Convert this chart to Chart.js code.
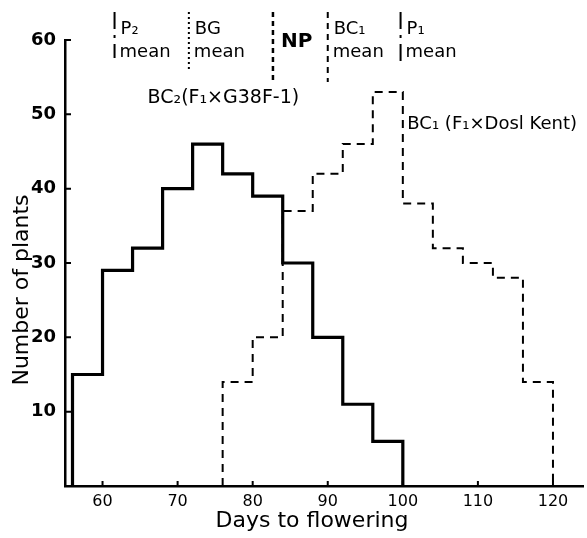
<!DOCTYPE html>
<html>
<head>
<meta charset="utf-8">
<script src="https://cdn.jsdelivr.net/npm/chart.js@4/dist/chart.umd.min.js"></script>
<style>
  html, body { margin: 0; padding: 0; background: #fff; }
</style>
</head>
<body>
<canvas id="chart" width="587" height="538"></canvas>
<script>
// Bins: lower edge of each 4-day class and number of plants in it
const binWidth = 4;
const bc2Days = [56, 60, 64, 68, 72, 76, 80, 84, 88, 92, 96];
const bc2Plants = [15, 29, 32, 40, 46, 42, 39, 30, 20, 11, 6];
const bc1Days = [76, 80, 84, 88, 92, 96, 100, 104, 108, 112, 116];
const bc1Plants = [14, 20, 37, 42, 46, 53, 38, 32, 30, 28, 14];

// Axis ticks
const xTicks = [60, 70, 80, 90, 100, 110, 120];
const yTicks = [10, 20, 30, 40, 50, 60];

// Means marked at the top
const meanNames = ['P₂', 'BG', 'NP', 'BC₁', 'P₁'];
const meanSub = ['mean', 'mean', '', 'mean', 'mean'];
const meanDays = [61.6, 71.5, 82.7, 90, 99.7];

const bc2Label = 'BC₂(F₁×G38F-1)';
const bc1Label = 'BC₁ (F₁×Dosl Kent)';

// histogram outline: up from 0, across each bin, back down to 0
function outline(days, counts) {
    let pts = [{ x: days[0], y: 0 }];
    days.forEach((d, i) => pts.push({ x: d, y: counts[i] }));
    let end = days[days.length - 1] + binWidth;
    pts.push({ x: end, y: counts[counts.length - 1] });
    pts.push({ x: end, y: 0 });
    return pts;
}

const FONT = 'DejaVu Sans';

// extra drawing: inward ticks, mean lines, labels, axis titles
const annotate = {
    id: 'annotate',
    afterDraw(chart) {
        const { ctx, scales: { x, y } } = chart;
        ctx.save();
        ctx.strokeStyle = '#000';
        ctx.fillStyle = '#000';

        // tick marks pointing into the plot
        ctx.lineWidth = 2;
        ctx.beginPath();
        yTicks.forEach(v => {
            let py = y.getPixelForValue(v);
            ctx.moveTo(x.left, py);
            ctx.lineTo(x.left + 6, py);
        });
        xTicks.forEach(v => {
            let px = x.getPixelForValue(v);
            ctx.moveTo(px, y.bottom);
            ctx.lineTo(px, y.bottom - 5);
        });
        ctx.stroke();

        // mean lines
        const dashes = [[17, 6, 3, 6], [2, 3], [5, 4], [6, 5], [17, 6, 3, 6]];
        const widths = [2, 2, 2.5, 2, 2];
        const lens = [46, 58, 70, 70, 50];
        meanDays.forEach((d, i) => {
            let px = x.getPixelForValue(d);
            ctx.setLineDash(dashes[i]);
            ctx.lineWidth = widths[i];
            ctx.beginPath();
            ctx.moveTo(px, 12);
            ctx.lineTo(px, 12 + lens[i]);
            ctx.stroke();
        });
        ctx.setLineDash([]);

        ctx.textBaseline = 'middle';
        ctx.textAlign = 'left';
        meanDays.forEach((d, i) => {
            let px = x.getPixelForValue(d);
            if (meanSub[i]) {
                ctx.font = '18px ' + FONT;
                ctx.fillText(meanNames[i], px + 6, 29);
                ctx.fillText(meanSub[i], px + 5, 52);
            } else {
                ctx.font = 'bold 20px ' + FONT;
                ctx.fillText(meanNames[i], px + 8, 42);
            }
        });

        // series labels
        ctx.font = '19px ' + FONT;
        ctx.fillText(bc2Label, x.getPixelForValue(66), y.getPixelForValue(52.2));
        ctx.font = '18px ' + FONT;
        ctx.fillText(bc1Label, x.getPixelForValue(100.6), y.getPixelForValue(48.6));

        // axis titles
        ctx.font = '22px ' + FONT;
        ctx.textAlign = 'center';
        ctx.fillText('Days to flowering', 312, 521);
        ctx.translate(22, 290);
        ctx.rotate(-Math.PI / 2);
        ctx.fillText('Number of plants', 0, 0);
        ctx.restore();
    }
};

let ctx = document.getElementById('chart').getContext('2d');
let chart = new Chart(ctx, {
    type: 'line',
    data: {
        datasets: [
            {
                label: 'BC2',
                data: outline(bc2Days, bc2Plants),
                stepped: 'before',
                borderColor: '#000',
                borderWidth: 3.2,
                pointRadius: 0,
                fill: false
            },
            {
                label: 'BC1',
                data: outline(bc1Days, bc1Plants),
                stepped: 'before',
                borderColor: '#000',
                borderWidth: 2,
                borderDash: [8, 6],
                pointRadius: 0,
                fill: false
            }
        ]
    },
    options: {
        responsive: false,
        animation: false,
        layout: { padding: { top: 40, right: 4, left: 0, bottom: 0 } },
        plugins: {
            legend: { display: false },
            tooltip: { enabled: false }
        },
        scales: {
            x: {
                type: 'linear',
                min: 55,
                max: 124,
                afterBuildTicks: s => { s.ticks = xTicks.map(v => ({ value: v })); },
                afterFit: s => { s.height = 52; },
                grid: { drawOnChartArea: false, drawTicks: false },
                border: { color: '#000', width: 2.5 },
                ticks: {
                    color: '#000',
                    padding: 6,
                    maxRotation: 0,
                    font: { family: FONT, size: 16 }
                }
            },
            y: {
                min: 0,
                max: 60,
                afterBuildTicks: s => { s.ticks = yTicks.map(v => ({ value: v })); },
                afterFit: s => { s.width = 65; },
                grid: { drawOnChartArea: false, drawTicks: false },
                border: { color: '#000', width: 2.5 },
                ticks: {
                    color: '#000',
                    padding: 9,
                    font: { family: FONT, size: 18, weight: 'bold' }
                }
            }
        }
    },
    plugins: [annotate]
});
</script>
</body>
</html>
